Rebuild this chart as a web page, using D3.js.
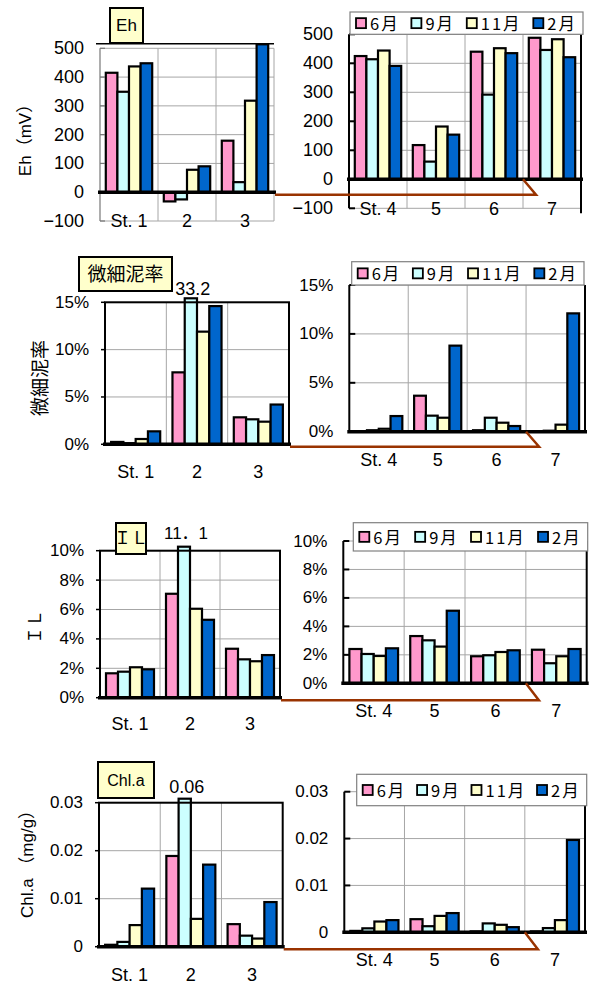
<!DOCTYPE html>
<html><head><meta charset="utf-8">
<script src="https://cdn.jsdelivr.net/npm/d3@7"></script>
<style>
body{margin:0;background:#fff}
svg{display:block}
text{font-family:"Liberation Sans",Arial,"Noto Sans CJK JP",sans-serif;fill:#000}
</style>
</head><body>
<svg id="c" width="590" height="985"></svg>
<script>
// ---------- data ----------
const months = ["6月", "9月", "11月", "2月"];
const leftStations = ["St. 1", "2", "3"];
const rightStations = ["St. 4", "5", "6", "7"];

const ehLeft  = [[415, 349, 437, 448], [-32, -25, 78, 90], [179, 35, 318, 501]];
const ehRight = [[425, 414, 444, 391], [118, 61, 182, 154], [440, 292, 452, 435], [488, 446, 483, 421]];

const mudLeft  = [[0.25, 0.12, 0.56, 1.37], [7.6, 33.2, 11.9, 14.6], [2.85, 2.64, 2.39, 4.2]];
const mudRight = [[0.05, 0.15, 0.3, 1.6], [3.68, 1.64, 1.43, 8.8], [0.15, 1.43, 0.92, 0.58], [0.05, 0.1, 0.72, 12.1]];

const ilLeft  = [[1.66, 1.77, 2.07, 1.93], [7.07, 11.1, 6.05, 5.3], [3.33, 2.61, 2.48, 2.9]];
const ilRight = [[2.41, 2.06, 1.92, 2.46], [3.32, 3.02, 2.58, 5.1], [1.9, 1.97, 2.2, 2.32], [2.36, 1.41, 1.9, 2.41]];

const chlLeft  = [[0.0004, 0.001, 0.0045, 0.0121], [0.0189, 0.06, 0.0058, 0.0171], [0.0047, 0.0023, 0.0017, 0.0093]];
const chlRight = [[0.0003, 0.00085, 0.0023, 0.0026], [0.0028, 0.0013, 0.0035, 0.0041], [0.0002, 0.0019, 0.0016, 0.0011], [0.0002, 0.0009, 0.0026, 0.0197]];

const ehTicks  = [-100, 0, 100, 200, 300, 400, 500];
const mudTicks = [0, 5, 10, 15];
const ilTicks  = [0, 2, 4, 6, 8, 10];
const chlTicks = [0, 0.01, 0.02, 0.03];

const overflowLabels = ["33.2", "11．1", "0.06"];
const titles = ["Eh", "微細泥率", "ＩＬ", "Chl.a"];

const colors = ["#ff99cc", "#ccffff", "#ffffcc", "#0066cc"];

// ---------- drawing ----------
const svg = d3.select("#c");
const fmtEh = d3.format("d");
const fmtPct = d => d + "%";
const fmtChl = d => d === 0 ? "0" : d.toFixed(2);

function panel(o) {
  const g = svg.append("g");
  const x = d3.scaleBand().domain(o.cats).range([o.x0, o.x1]).paddingInner(0).paddingOuter(0);
  const y = d3.scaleLinear().domain([o.ticks[0], o.ticks[o.ticks.length - 1]]).range([o.yBot, o.yTop]);
  const gw = x.bandwidth() * 0.8;
  const xi = d3.scaleBand().domain(d3.range(months.length)).range([0, gw]);
  const yMax = y.domain()[1];
  const gridCol = "#a6a6a6";

  g.append("rect").attr("x", o.x0).attr("y", o.yTop).attr("width", o.x1 - o.x0).attr("height", o.yBot - o.yTop).attr("fill", "#fff");

  g.selectAll(null).data(o.ticks).join("line")
    .attr("x1", o.x0).attr("x2", o.x1)
    .attr("y1", d => y(d)).attr("y2", d => y(d))
    .attr("stroke", gridCol).attr("stroke-width", 1);
  g.selectAll(null).data(o.cats.slice(1)).join("line")
    .attr("x1", d => x(d)).attr("x2", d => x(d))
    .attr("y1", o.yTop).attr("y2", o.yBot)
    .attr("stroke", gridCol).attr("stroke-width", 1);

  const bars = o.data.flatMap((vals, ci) => vals.map((v, mi) => ({ c: o.cats[ci], m: mi, v })));
  const topOf = d => d.v > yMax ? y(yMax) - 4 : y(Math.max(d.v, 0));
  const botOf = d => d.v < 0 ? y(d.v) : y(0);
  g.selectAll(null).data(bars).join("rect")
    .attr("x", d => x(d.c) + (x.bandwidth() - gw) / 2 + xi(d.m))
    .attr("width", xi.bandwidth())
    .attr("y", topOf)
    .attr("height", d => Math.max(0.5, botOf(d) - topOf(d)))
    .attr("fill", d => colors[d.m])
    .attr("stroke", "#000").attr("stroke-width", 2.2);

  if (o.side === "left") {
    if (o.grayFrame) {
      g.append("line").attr("x1", o.x0).attr("x2", o.x0).attr("y1", o.yTop).attr("y2", o.yBot).attr("stroke", "#777").attr("stroke-width", 1.2);
      g.append("line").attr("x1", o.x1).attr("x2", o.x1).attr("y1", o.yTop).attr("y2", o.yBot).attr("stroke", gridCol).attr("stroke-width", 1);
      g.append("line").attr("x1", o.x0 - 4).attr("x2", o.x1).attr("y1", o.yTop - 4.5).attr("y2", o.yTop - 4.5).attr("stroke", "#000").attr("stroke-width", 1.5);
      g.selectAll(null).data(o.ticks).join("line")
        .attr("x1", o.x0).attr("x2", o.x0 + 5).attr("y1", d => y(d)).attr("y2", d => y(d))
        .attr("stroke", "#777").attr("stroke-width", 1.2);
    } else {
      g.append("rect").attr("x", o.x0).attr("y", o.yTop).attr("width", o.x1 - o.x0).attr("height", o.yBot - o.yTop)
        .attr("fill", "none").attr("stroke", "#000").attr("stroke-width", 2);
      g.selectAll(null).data(o.ticks).join("line")
        .attr("x1", o.x0 - 4).attr("x2", o.x0).attr("y1", d => y(d)).attr("y2", d => y(d))
        .attr("stroke", "#000").attr("stroke-width", 1.5);
    }
  } else {
    g.append("line").attr("x1", o.x0).attr("x2", o.x0).attr("y1", o.yTop).attr("y2", o.yBot).attr("stroke", "#000").attr("stroke-width", 2);
    g.append("line").attr("x1", o.x1).attr("x2", o.x1).attr("y1", o.yTop).attr("y2", o.yBot + (o.grayFrame ? 5 : 0)).attr("stroke", "#000").attr("stroke-width", 2);
    g.selectAll(null).data(o.ticks).join("line")
      .attr("x1", o.x0).attr("x2", o.x0 + 6).attr("y1", d => y(d)).attr("y2", d => y(d))
      .attr("stroke", "#000").attr("stroke-width", 2);
  }

  g.append("line").attr("x1", o.x0 - 2).attr("x2", o.x1 + 2).attr("y1", y(0)).attr("y2", y(0))
    .attr("stroke", "#000").attr("stroke-width", 3.5);

  g.selectAll(null).data(o.ticks).join("text")
    .attr("x", o.x0 - 16).attr("y", d => y(d))
    .attr("text-anchor", "end").attr("dominant-baseline", "central")
    .attr("font-size", o.tickSize)
    .text(o.fmt);

  g.selectAll(null).data(o.cats).join("text")
    .attr("x", d => x(d) + x.bandwidth() / 2)
    .attr("y", o.yBot + o.catDy)
    .attr("text-anchor", "middle").attr("dominant-baseline", "central")
    .attr("font-size", 18)
    .text(d => d);

  if (o.over) {
    const ov = o.over;
    g.append("text")
      .attr("x", x(o.cats[ov.ci]) + (x.bandwidth() - gw) / 2 + xi(ov.mi) + xi.bandwidth() / 2 + 2)
      .attr("y", y(yMax) + ov.dy)
      .attr("text-anchor", "middle").attr("dominant-baseline", "central")
      .attr("font-size", ov.size)
      .text(ov.text);
  }

  if (o.legend) {
    const L = o.legend;
    const lg = svg.append("g");
    lg.append("rect").attr("x", L.x).attr("y", L.y).attr("width", L.w).attr("height", L.h)
      .attr("fill", "#fff").attr("stroke", "#808080").attr("stroke-width", 1.2);
    const items = lg.selectAll(null).data(months).join("g");
    items.append("rect").attr("width", 10).attr("height", 10)
      .attr("fill", (d, i) => colors[i]).attr("stroke", "#000").attr("stroke-width", 1.8);
    const txt = items.append("text").attr("x", 14).attr("y", 5)
      .attr("dominant-baseline", "central").attr("font-size", 16.5)
      .attr("letter-spacing", 2)
      .style("font-family", '"Noto Sans CJK JP",sans-serif')
      .text(d => d);
    const widths = [];
    txt.each(function () { widths.push(14 + this.getComputedTextLength()); });
    const total = d3.sum(widths);
    const gap = (L.w - 12 - total) / (months.length - 1);
    let cx = L.x + 6;
    items.attr("transform", (d, i) => {
      const t = `translate(${cx},${L.y + L.h / 2 - 5})`;
      cx += widths[i] + gap;
      return t;
    });
  }
  return { x, y };
}

function titleBox(t, bx, by, bw, bh, size) {
  svg.append("rect").attr("x", bx).attr("y", by).attr("width", bw).attr("height", bh)
    .attr("fill", "#ffffcc").attr("stroke", "#000").attr("stroke-width", 2);
  svg.append("text").attr("x", bx + bw / 2).attr("y", by + bh / 2)
    .attr("text-anchor", "middle").attr("dominant-baseline", "central")
    .attr("font-size", size).text(t);
}

function yLabel(parts, lx, ly) {
  const t = svg.append("text").attr("transform", `translate(${lx},${ly}) rotate(-90)`)
    .attr("text-anchor", "middle").attr("dominant-baseline", "central");
  parts.forEach(p => t.append("tspan").attr("font-size", p.size).text(p.text));
}

function connector(lp, rp, rightCat) {
  const yl = lp.y(0) + 2.5;
  const gx = rp.x(rightCat);
  svg.append("polyline")
    .attr("points", [[lp.x.range()[1] + 1, yl], [gx + 13, yl], [gx, rp.y(0)]].map(p => p.join(",")).join(" "))
    .attr("fill", "none").attr("stroke", "#993300").attr("stroke-width", 2.5);
}

// Eh
const p1 = panel({ data: ehLeft, cats: leftStations, ticks: ehTicks, fmt: fmtEh, side: "left", grayFrame: true, tickSize: 18,
  x0: 100, x1: 274, yTop: 48.3, yBot: 221, catDy: 0 });
const p2 = panel({ data: ehRight, cats: rightStations, ticks: ehTicks, fmt: fmtEh, side: "right", grayFrame: true, tickSize: 18,
  x0: 349, x1: 581, yTop: 34.3, yBot: 208.3, catDy: 0.7,
  legend: { x: 350, y: 12, w: 233, h: 22.3 } });
titleBox(titles[0], 110, 8, 33, 35, 17);
yLabel([{ text: "Eh（mV）", size: 17 }], 25, 136);
connector(p1, p2, rightStations[3]);

// 微細泥率
const p3 = panel({ data: mudLeft, cats: leftStations, ticks: mudTicks, fmt: fmtPct, side: "left", tickSize: 17,
  x0: 105, x1: 289, yTop: 302.3, yBot: 444.3, catDy: 28,
  over: { ci: 1, mi: 1, text: overflowLabels[0], dy: -13, size: 18 } });
const p4 = panel({ data: mudRight, cats: rightStations, ticks: mudTicks, fmt: fmtPct, side: "right", tickSize: 17,
  x0: 349.3, x1: 585, yTop: 285, yBot: 431.7, catDy: 28,
  legend: { x: 351.7, y: 261.7, w: 232.3, h: 23.3 } });
titleBox(titles[1], 79, 257, 93, 34, 19);
yLabel([{ text: "微細泥率", size: 19 }], 40, 378);
connector(p3, p4, rightStations[3]);

// IL
const p5 = panel({ data: ilLeft, cats: leftStations, ticks: ilTicks, fmt: fmtPct, side: "left", tickSize: 17,
  x0: 100, x1: 280, yTop: 550.7, yBot: 697.7, catDy: 26,
  over: { ci: 1, mi: 1, text: overflowLabels[1], dy: -17, size: 17 } });
const p6 = panel({ data: ilRight, cats: rightStations, ticks: ilTicks, fmt: fmtPct, side: "right", tickSize: 17,
  x0: 343.3, x1: 586.7, yTop: 541, yBot: 683.3, catDy: 28,
  legend: { x: 353.3, y: 522.7, w: 234.4, h: 28.3 } });
titleBox(titles[2], 116, 523, 30, 31, 17);
yLabel([{ text: "ＩＬ", size: 17 }], 35, 627);
connector(p5, p6, rightStations[3]);

// Chl.a
const p7 = panel({ data: chlLeft, cats: leftStations, ticks: chlTicks, fmt: fmtChl, side: "left", tickSize: 17,
  x0: 99, x1: 282.7, yTop: 802.7, yBot: 946.7, catDy: 28,
  over: { ci: 1, mi: 1, text: overflowLabels[2], dy: -16, size: 18 } });
const p8 = panel({ data: chlRight, cats: rightStations, ticks: chlTicks, fmt: fmtChl, side: "right", tickSize: 17,
  x0: 344.3, x1: 585, yTop: 791.7, yBot: 932.3, catDy: 28,
  legend: { x: 356.7, y: 774.3, w: 230, h: 31.4 } });
titleBox(titles[3], 98, 762, 56, 36, 16);
yLabel([{ text: "Chl.a （mg/g）", size: 17 }], 27, 860);
connector(p7, p8, rightStations[3]);
</script>
</body></html>
